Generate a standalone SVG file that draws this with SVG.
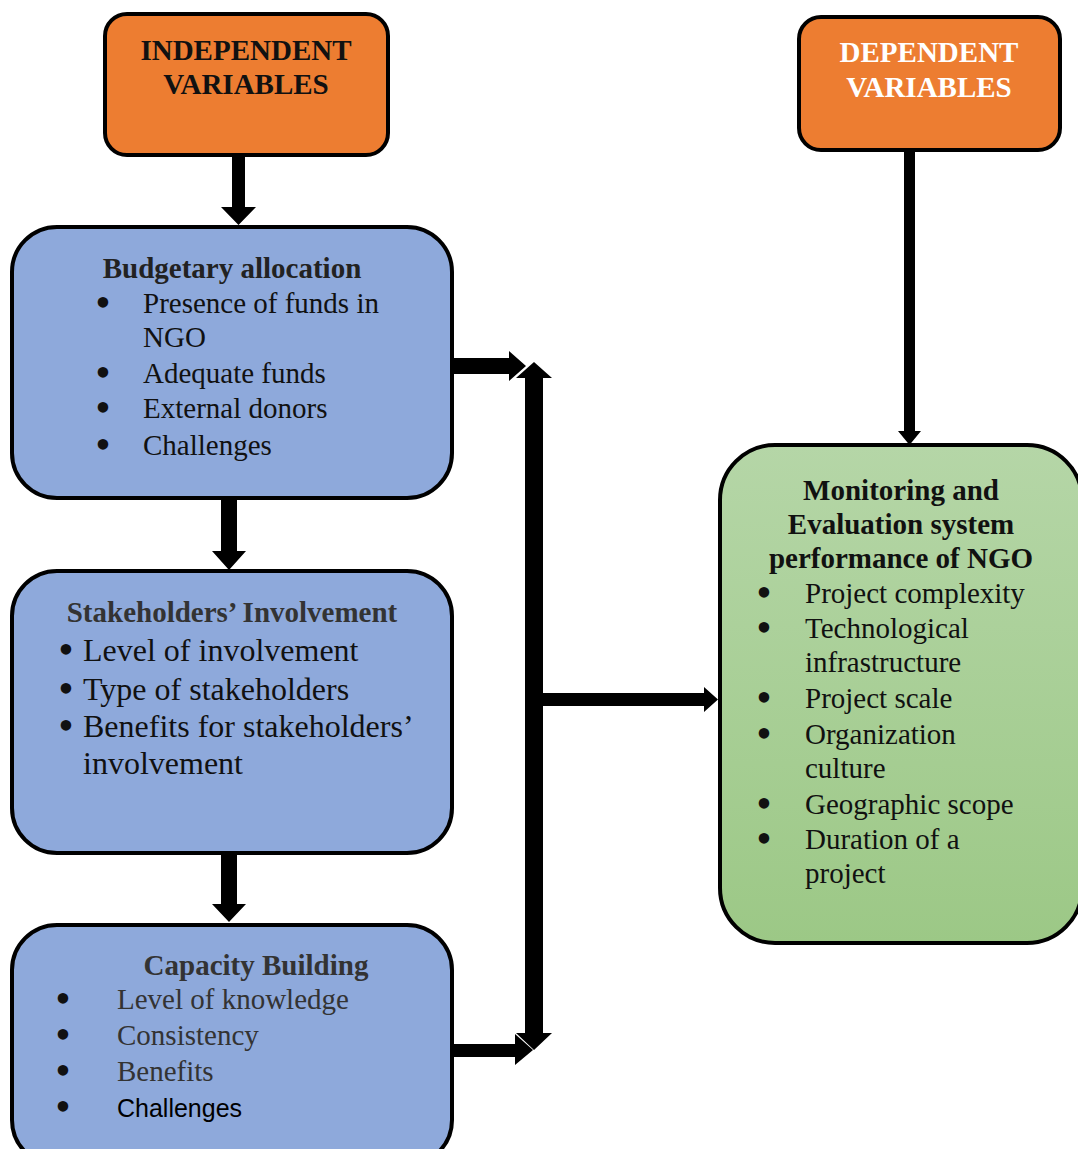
<svg xmlns="http://www.w3.org/2000/svg" width="1078" height="1149" viewBox="0 0 1078 1149">
<defs>
<linearGradient id="gr" x1="0" y1="0" x2="0" y2="1">
<stop offset="0" stop-color="#B5D6A7"/>
<stop offset="1" stop-color="#9CC886"/>
</linearGradient>
<style>
.box{stroke:#000;stroke-width:4}
.orange{fill:#ED7D31}
.blue{fill:#8EA9DB}
.t{font-family:"Liberation Serif","Times New Roman",serif;font-size:29px;fill:#111}
.b{font-weight:bold}
.c{text-anchor:middle}
.w{fill:#fff}
.g{fill:#333}
.bu{font-family:"Liberation Serif","Times New Roman",serif;font-size:44px;fill:#111;text-anchor:middle}
.s{font-family:"Liberation Sans",Arial,sans-serif;font-size:25px;fill:#000}
.ar{fill:#000}
</style>
</defs>

<g id="independent">
<rect class="box orange" x="105" y="14" width="283" height="141" rx="22"/>
<text class="t b c" x="246" y="60">INDEPENDENT</text>
<text class="t b c" x="246" y="94">VARIABLES</text>
</g>

<g id="dependent">
<rect class="box orange" x="799" y="17" width="261" height="133" rx="22"/>
<text class="t b c w" x="929" y="62">DEPENDENT</text>
<text class="t b c w" x="929" y="97">VARIABLES</text>
</g>

<g id="budgetary">
<rect class="box blue" x="12" y="227" width="440" height="271" rx="45"/>
<text class="t b c" x="232" y="278" style="fill:#222">Budgetary allocation</text>
<text class="bu" x="103" y="317">•</text><text class="t" x="143" y="313">Presence of funds in</text>
<text class="t" x="143" y="347">NGO</text>
<text class="bu" x="103" y="387">•</text><text class="t" x="143" y="383">Adequate funds</text>
<text class="bu" x="103" y="422">•</text><text class="t" x="143" y="418">External donors</text>
<text class="bu" x="103" y="459">•</text><text class="t" x="143" y="455">Challenges</text>
</g>

<g id="stakeholders">
<rect class="box blue" x="12" y="571" width="440" height="282" rx="45"/>
<text class="t b c g" x="232" y="622">Stakeholders’ Involvement</text>
<text class="bu" x="66" y="664">•</text><text class="t" x="83" y="661" style="font-size:32px">Level of involvement</text>
<text class="bu" x="66" y="703">•</text><text class="t" x="83" y="700" style="font-size:32px">Type of stakeholders</text>
<text class="bu" x="66" y="740">•</text><text class="t" x="83" y="737" style="font-size:32px">Benefits for stakeholders’</text>
<text class="t" x="83" y="774" style="font-size:32px">involvement</text>
</g>

<g id="capacity">
<rect class="box blue" x="12" y="925" width="440" height="240" rx="45"/>
<text class="t b c g" x="256" y="975">Capacity Building</text>
<text class="bu g" x="63" y="1013">•</text><text class="t g" x="117" y="1009">Level of knowledge</text>
<text class="bu g" x="63" y="1049">•</text><text class="t g" x="117" y="1045">Consistency</text>
<text class="bu g" x="63" y="1085">•</text><text class="t g" x="117" y="1081">Benefits</text>
<text class="bu g" x="63" y="1121">•</text><text class="s" x="117" y="1117">Challenges</text>
</g>

<g id="monitoring">
<rect class="box" x="720" y="445" width="362" height="498" rx="55" fill="url(#gr)"/>
<text class="t b c" x="901" y="500">Monitoring and</text>
<text class="t b c" x="901" y="534">Evaluation system</text>
<text class="t b c" x="901" y="568">performance of NGO</text>
<text class="bu" x="764" y="607">•</text><text class="t" x="805" y="603">Project complexity</text>
<text class="bu" x="764" y="642">•</text><text class="t" x="805" y="638">Technological</text>
<text class="t" x="805" y="672">infrastructure</text>
<text class="bu" x="764" y="712">•</text><text class="t" x="805" y="708">Project scale</text>
<text class="bu" x="764" y="748">•</text><text class="t" x="805" y="744">Organization</text>
<text class="t" x="805" y="778">culture</text>
<text class="bu" x="764" y="818">•</text><text class="t" x="805" y="814">Geographic scope</text>
<text class="bu" x="764" y="853">•</text><text class="t" x="805" y="849">Duration of a</text>
<text class="t" x="805" y="883">project</text>
</g>

<g id="connectors">
<polygon class="ar" points="232,155 245,155 245,207 256,207 238.5,225 221,207 232,207"/>
<polygon class="ar" points="221,498 237,498 237,551 246,551 229,570 212,551 221,551"/>
<polygon class="ar" points="221,853 237,853 237,904 246,904 229,922 212,904 221,904"/>
<polygon class="ar" points="904,150 915,150 915,431 921,431 909.5,445 898,431 904,431"/>
<polygon class="ar" points="534,362 552,378 543,378 543,1033 552,1033 534,1050 516,1033 525,1033 525,378 516,378"/>
<polygon class="ar" points="452,358 509,358 509,351 526,366 509,381 509,374 452,374"/>
<polygon class="ar" points="452,1044 515,1044 515,1034 533,1050 515,1065 515,1057 452,1057"/>
<polygon class="ar" points="543,693 704,693 704,687 718,699.5 704,712 704,706 543,706"/>
</g>
</svg>
